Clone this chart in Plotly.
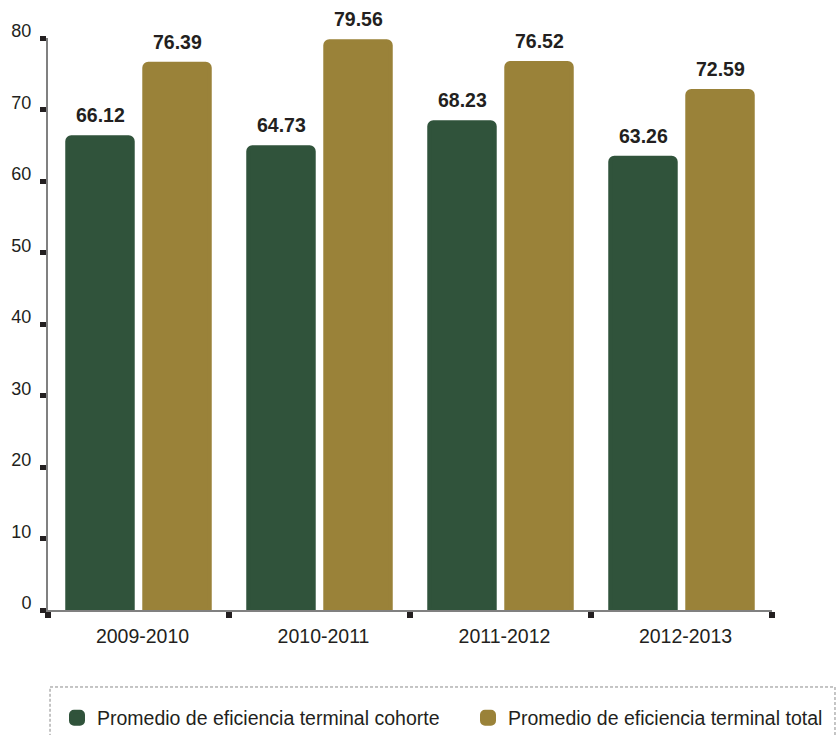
import plotly.graph_objects as go

categories = ["2009-2010", "2010-2011", "2011-2012", "2012-2013"]
cohorte = [66.12, 64.73, 68.23, 63.26]
total = [76.39, 79.56, 76.52, 72.59]
series_names = ["Promedio de eficiencia terminal cohorte", "Promedio de eficiencia terminal total"]
y_ticks = [0, 10, 20, 30, 40, 50, 60, 70, 80]

GREEN = "#30533B"
GOLD = "#9A8239"
TXT = "#231F20"
FONT = "Liberation Sans, Arial, sans-serif"

fig = go.Figure()
fig.add_trace(go.Bar(x=categories, y=cohorte, name=series_names[0], legend="legend",
                     marker=dict(color=GREEN, line=dict(width=4, color=GREEN))))
fig.add_trace(go.Bar(x=categories, y=total, name=series_names[1], legend="legend2",
                     marker=dict(color=GOLD, line=dict(width=4, color=GOLD))))

for vals, shift in ((cohorte, -38.5), (total, 38.5)):
    for c, v in zip(categories, vals):
        fig.add_annotation(x=c, y=v, text="<b>%.2f</b>" % v, showarrow=False,
                           xshift=shift, yshift=22, yanchor="middle",
                           font=dict(family=FONT, size=19.5, color=TXT))

fig.add_shape(type="rect", xref="paper", yref="paper",
              x0=0.0028, x1=1.087, y0=-0.1346, y1=-0.27,
              line=dict(color="#8a8a8a", width=1, dash="3px,2px"))

leg_common = dict(orientation="h", xanchor="left", yanchor="middle",
                  xref="container", yref="container", y=0.0231,
                  font=dict(family=FONT, size=19.5, color=TXT),
                  bgcolor="rgba(0,0,0,0)", borderwidth=0)

fig.update_layout(
    width=838, height=735,
    margin=dict(l=48, r=66, t=38, b=125),
    paper_bgcolor="white", plot_bgcolor="white",
    barmode="group", bargap=0.149, bargroupgap=0.15, barcornerradius=4,
    font=dict(family=FONT, color=TXT),
    showlegend=True,
    legend=dict(x=57 / 838, **leg_common),
    legend2=dict(x=468 / 838, **leg_common),
    xaxis=dict(showline=True, linecolor="#808080", linewidth=2, showgrid=False,
               ticks="outside", tickson="boundaries", ticklen=6, tickwidth=6, tickcolor="#231F20",
               tickfont=dict(family=FONT, size=19.5, color=TXT), ticklabelstandoff=8, ticklabelshift=4),
    yaxis=dict(range=[0, 80], showline=True, linecolor="#808080", linewidth=2, showgrid=False,
               zeroline=False, tickvals=y_ticks, ticks="outside", ticklen=6, tickwidth=5,
               tickcolor="#231F20", tickfont=dict(family=FONT, size=18, color=TXT),
               ticklabelstandoff=5, ticklabelshift=-7),
)

fig.write_html("out.html", config={"displayModeBar": False},
               post_script="document.body.style.margin='0';document.body.style.overflow='hidden';")
